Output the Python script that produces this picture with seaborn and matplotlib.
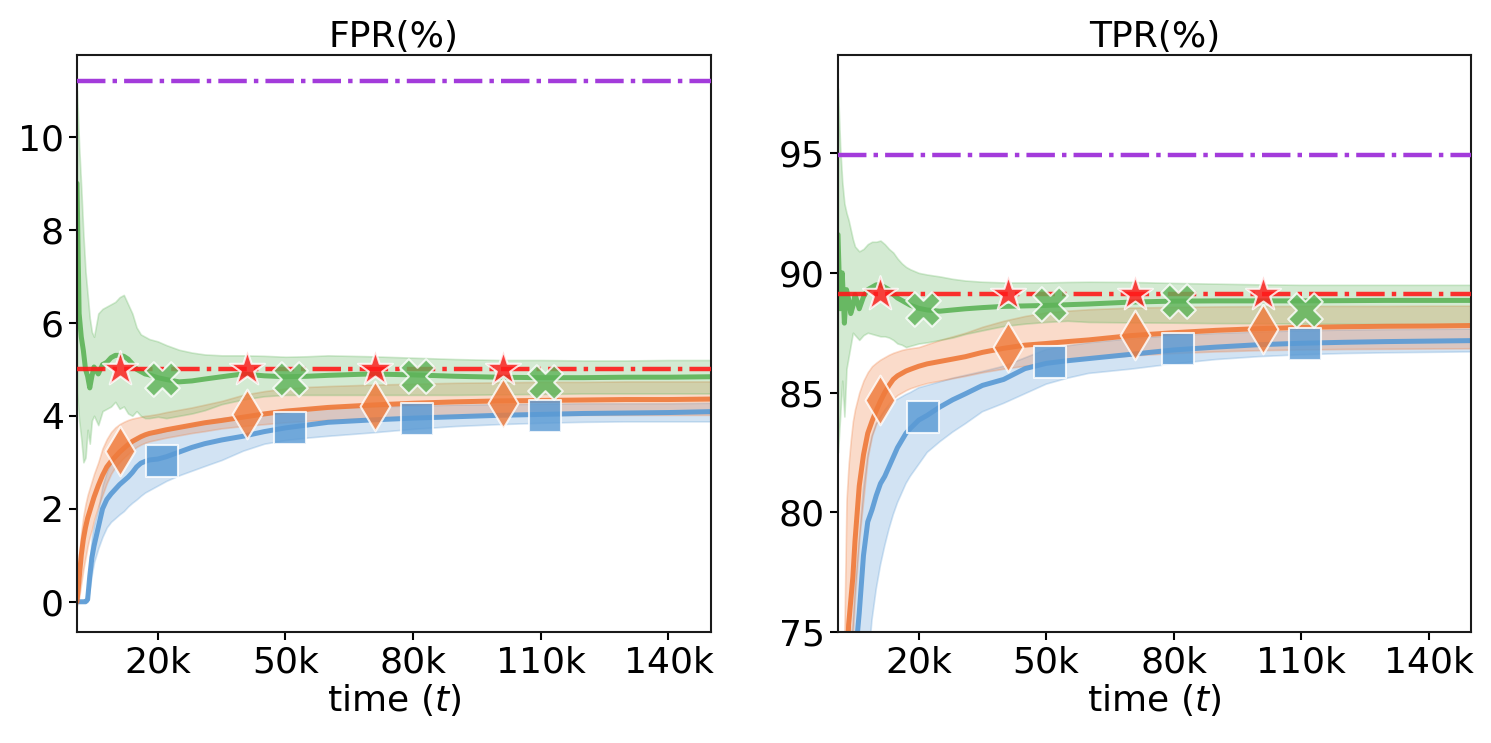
import numpy as np
import pandas as pd
import matplotlib
matplotlib.use("Agg")
import matplotlib.pyplot as plt
import seaborn as sns

# ---------------- data (time in thousands) ----------------
t_k = [1, 1.5, 2, 2.5, 3, 3.5, 4, 4.5, 5, 6, 7, 8, 9, 10, 11, 12, 13, 14, 15, 16, 17, 18,
       20, 22, 25, 28, 31, 35, 40, 45, 50, 55, 60, 70, 80, 90, 100, 110, 120, 130, 140, 150]

# FPR panel
fpr_blue = [0, 0, 0, 0, 0, 0.05, 0.55, 0.95, 1.2, 1.6, 2.0, 2.2, 2.32, 2.42, 2.52, 2.6, 2.68, 2.78, 2.9, 2.98, 3.02, 3.05,
            3.07, 3.12, 3.22, 3.32, 3.4, 3.48, 3.56, 3.66, 3.74, 3.8, 3.86, 3.91, 3.95, 3.98, 4.01, 4.03, 4.05, 4.06, 4.07, 4.09]
fpr_blue_lo = [0, 0, 0, 0, 0, 0, 0.3, 0.6, 0.85, 1.15, 1.4, 1.6, 1.72, 1.8, 1.88, 1.95, 2.05, 2.13, 2.2, 2.28, 2.35, 2.4,
               2.5, 2.6, 2.72, 2.82, 2.92, 3.05, 3.25, 3.4, 3.48, 3.53, 3.57, 3.64, 3.72, 3.78, 3.82, 3.85, 3.87, 3.88, 3.88, 3.88]
fpr_blue_hi = [0, 0, 0, 0, 0.05, 0.3, 0.9, 1.4, 1.65, 2.0, 2.5, 2.8, 3.0, 3.1, 3.18, 3.3, 3.4, 3.48, 3.54, 3.58, 3.6, 3.62,
               3.63, 3.68, 3.75, 3.82, 3.88, 3.95, 4.0, 4.08, 4.14, 4.17, 4.18, 4.2, 4.22, 4.24, 4.25, 4.26, 4.27, 4.27, 4.27, 4.28]
fpr_orange = [0, 0.5, 1.0, 1.35, 1.6, 1.8, 1.95, 2.1, 2.25, 2.5, 2.72, 2.9, 3.02, 3.12, 3.22, 3.3, 3.38, 3.45, 3.5, 3.55, 3.59, 3.62,
              3.66, 3.7, 3.75, 3.8, 3.85, 3.9, 3.97, 4.04, 4.1, 4.14, 4.18, 4.23, 4.27, 4.3, 4.32, 4.33, 4.34, 4.35, 4.35, 4.36]
fpr_orange_lo = [-0.08, 0.1, 0.4, 0.7, 0.95, 1.2, 1.4, 1.55, 1.75, 2.05, 2.3, 2.55, 2.75, 2.9, 3.0, 3.1, 3.18, 3.26, 3.33, 3.38, 3.42, 3.45,
                 3.49, 3.53, 3.58, 3.63, 3.67, 3.73, 3.78, 3.82, 3.86, 3.89, 3.91, 3.95, 3.98, 4.0, 4.01, 4.02, 4.02, 4.02, 4.02, 4.02]
fpr_orange_hi = [0.2, 1.0, 1.5, 1.85, 2.1, 2.3, 2.45, 2.6, 2.75, 3.0, 3.3, 3.5, 3.65, 3.75, 3.82, 3.87, 3.91, 3.94, 3.96, 3.98, 4.0, 4.01,
                 4.04, 4.08, 4.13, 4.18, 4.24, 4.32, 4.45, 4.53, 4.59, 4.62, 4.64, 4.67, 4.69, 4.71, 4.72, 4.73, 4.73, 4.74, 4.74, 4.74]
fpr_green = [9.0, 6.2, 5.7, 5.4, 5.0, 4.85, 4.6, 4.85, 5.05, 4.9, 5.1, 5.15, 5.25, 5.3, 5.3, 5.28, 5.22, 5.12, 5.0, 4.95, 4.9, 4.88,
             4.82, 4.78, 4.73, 4.75, 4.79, 4.84, 4.9, 4.86, 4.84, 4.85, 4.87, 4.9, 4.88, 4.85, 4.83, 4.82, 4.82, 4.83, 4.83, 4.84]
fpr_green_lo = [4.5, 3.9, 3.5, 3.0, 3.1, 3.7, 3.4, 3.9, 4.0, 3.8, 4.1, 4.15, 4.2, 4.3, 4.15, 4.2, 4.05, 4.0, 4.1, 4.0, 3.95, 3.95,
                3.98, 3.95, 4.0, 4.05, 4.12, 4.25, 4.35, 4.42, 4.45, 4.45, 4.45, 4.45, 4.45, 4.45, 4.46, 4.47, 4.48, 4.48, 4.48, 4.48]
fpr_green_hi = [11.0, 9.8, 8.9, 7.9, 7.1, 6.6, 6.1, 5.8, 5.7, 6.2, 6.3, 6.35, 6.4, 6.45, 6.55, 6.6, 6.4, 6.2, 5.9, 5.75, 5.7, 5.65,
                5.6, 5.52, 5.42, 5.36, 5.32, 5.3, 5.3, 5.29, 5.27, 5.28, 5.3, 5.28, 5.25, 5.22, 5.2, 5.2, 5.19, 5.19, 5.2, 5.2]
fpr_purple_level = 11.2
fpr_red_level = 5.0

# TPR panel
tpr_blue = [60, 62, 64, 66, 67.5, 69, 70.5, 72, 73.8, 75.8, 78.2, 79.6, 80.1, 80.7, 81.2, 81.5, 81.9, 82.3, 82.7, 83.0, 83.3, 83.5,
            83.85, 84.05, 84.4, 84.7, 84.95, 85.3, 85.55, 86.0, 86.22, 86.33, 86.42, 86.6, 86.78, 86.9, 87.0, 87.06, 87.1, 87.13, 87.15, 87.17]
tpr_blue_lo = [50, 52, 54, 56, 58, 60, 62, 64, 66, 69, 71.5, 73.5, 75.5, 76.8, 77.8, 78.6, 79.3, 79.9, 80.4, 80.8, 81.2, 81.5,
               82.0, 82.5, 82.95, 83.35, 83.7, 84.2, 84.55, 84.95, 85.35, 85.6, 85.8, 85.98, 86.2, 86.38, 86.5, 86.58, 86.63, 86.66, 86.68, 86.7]
tpr_blue_hi = [68, 70, 71.5, 72.5, 73.5, 74, 74.5, 75.3, 76.8, 78.9, 81.0, 82.4, 83.2, 83.7, 84.0, 84.25, 84.45, 84.6, 84.72, 84.82, 84.92, 85.0,
               85.2, 85.3, 85.45, 85.6, 85.72, 85.88, 86.1, 86.45, 86.8, 86.95, 87.08, 87.25, 87.38, 87.47, 87.53, 87.58, 87.61, 87.63, 87.64, 87.65]
tpr_orange = [65, 67, 69, 71, 73, 75.3, 76.3, 77.3, 78.8, 81.1, 82.4, 83.3, 83.8, 84.25, 84.65, 85.0, 85.3, 85.55, 85.7, 85.8, 85.9, 85.97,
              86.1, 86.2, 86.3, 86.4, 86.5, 86.68, 86.85, 86.98, 87.05, 87.13, 87.2, 87.38, 87.5, 87.6, 87.67, 87.72, 87.75, 87.77, 87.78, 87.8]
tpr_orange_lo = [58, 61, 64, 66.5, 69, 71.5, 73.5, 75, 76.5, 78.9, 80.6, 82.3, 83.2, 83.7, 84.0, 84.3, 84.55, 84.75, 84.9, 85.0, 85.1, 85.18,
                 85.3, 85.4, 85.5, 85.6, 85.7, 85.85, 86.0, 86.12, 86.25, 86.35, 86.42, 86.55, 86.65, 86.72, 86.77, 86.8, 86.82, 86.83, 86.84, 86.85]
tpr_orange_hi = [72, 73.5, 74.5, 75, 80.5, 82, 83, 83.8, 84.3, 85.0, 85.5, 85.85, 86.1, 86.25, 86.38, 86.48, 86.58, 86.66, 86.72, 86.78, 86.82, 86.85,
                 86.9, 87.02, 87.2, 87.35, 87.5, 87.75, 88.0, 88.2, 88.35, 88.42, 88.48, 88.55, 88.58, 88.6, 88.61, 88.62, 88.62, 88.62, 88.63, 88.63]
tpr_green = [91.6, 88.5, 90.0, 87.9, 89.3, 88.9, 88.3, 88.6, 89.1, 88.5, 89.0, 89.3, 89.4, 89.5, 89.5, 89.4, 89.3, 89.1, 88.95, 88.85, 88.75, 88.65,
             88.52, 88.45, 88.4, 88.45, 88.5, 88.55, 88.6, 88.62, 88.64, 88.67, 88.7, 88.78, 88.82, 88.83, 88.83, 88.83, 88.84, 88.85, 88.85, 88.85]
tpr_green_lo = [82.5, 84.0, 85.5, 84.0, 86.0, 86.5, 87.0, 87.5, 87.4, 87.2, 87.4, 87.5, 87.45, 87.4, 87.35, 87.35, 87.3, 87.2, 87.05, 87.0, 86.9, 86.95,
                87.05, 87.1, 87.2, 87.3, 87.45, 87.6, 87.78, 87.88, 87.95, 88.0, 87.95, 87.93, 87.92, 87.9, 87.9, 87.88, 87.87, 87.86, 87.85, 87.85]
tpr_green_hi = [97.7, 95.3, 93.8, 92.9, 92.5, 92.2, 91.8, 91.4, 91.1, 90.9, 91.0, 91.2, 91.3, 91.3, 91.35, 91.2, 91.0, 90.85, 90.6, 90.4, 90.25, 90.15,
                90.0, 89.93, 89.85, 89.75, 89.68, 89.63, 89.6, 89.6, 89.6, 89.62, 89.63, 89.62, 89.58, 89.55, 89.52, 89.5, 89.5, 89.5, 89.5, 89.5]
tpr_purple_level = 94.92
tpr_red_level = 89.1

# marker positions (thousands) and values
mk_t_a = [11, 41, 71, 101]   # star / diamond
mk_t_b = [21, 51, 81, 111]   # cross / square
fpr_star = [5.0, 5.0, 5.0, 5.0]
fpr_cross = [4.8, 4.8, 4.85, 4.73]
fpr_diamond = [3.25, 4.03, 4.21, 4.28]
fpr_square = [3.02, 3.74, 3.94, 4.0]
tpr_star = [89.1, 89.1, 89.1, 89.1]
tpr_cross = [88.5, 88.7, 88.82, 88.45]
tpr_diamond = [84.7, 86.9, 87.4, 87.64]
tpr_square = [84.0, 86.27, 86.84, 87.03]

xtick_vals = [20, 50, 80, 110, 140]
xtick_labels = ["20k", "50k", "80k", "110k", "140k"]
fpr_yticks = [0, 2, 4, 6, 8, 10]
tpr_yticks = [75, 80, 85, 90, 95]

# ---------------- style ----------------
C_BLUE = "#5b9bd5"
C_ORANGE = "#ef7b3c"
C_GREEN = "#5fb45a"
C_RED = "#ff1a1a"
C_PURPLE = "#a33bdb"

sns.set_theme(style="ticks", rc={
    "axes.edgecolor": "#1a1a1a",
    "axes.linewidth": 1.5,
    "xtick.major.size": 6,
    "ytick.major.size": 6,
    "xtick.major.width": 1.5,
    "ytick.major.width": 1.5,
    "xtick.color": "black",
    "ytick.color": "black",
    "text.color": "black",
    "axes.labelcolor": "black",
})
plt.rcParams["font.family"] = ["DejaVu Sans"]
plt.rcParams["font.size"] = 26

fig = plt.figure(figsize=(14.91, 7.43), dpi=100)
ax1 = fig.add_axes([77 / 1491, 1 - 632 / 743, 634 / 1491, 577 / 743])
ax2 = fig.add_axes([838 / 1491, 1 - 632 / 743, 633 / 1491, 577 / 743])

t = np.array(t_k) * 1000
ta = np.array(mk_t_a) * 1000
tb = np.array(mk_t_b) * 1000


def panel(ax, series, purple, red, marks, ylim, yticks, title):
    # bands
    for mean, lo, hi, col in series:
        ax.fill_between(t, lo, hi, color=col, alpha=0.27, lw=1.2, zorder=1)
    # mean lines
    for mean, lo, hi, col in series:
        sns.lineplot(x=t, y=mean, ax=ax, color=col, lw=3.6, alpha=0.92, zorder=2,
                     estimator=None, sort=False)
    # reference lines
    ax.axhline(purple, color=C_PURPLE, lw=3.2, ls="-.", zorder=3)
    ax.axhline(red, color=C_RED, lw=3.2, ls="-.", alpha=0.9, zorder=3)
    # markers
    star, cross, diamond, square = marks
    kw = dict(ax=ax, edgecolor="white", linewidth=1.5, alpha=0.82, zorder=5, legend=False)
    sns.scatterplot(x=tb, y=square, marker="s", s=560, color=C_BLUE, **kw)
    sns.scatterplot(x=ta, y=diamond, marker="d", s=640, color=C_ORANGE, **kw)
    sns.scatterplot(x=tb, y=cross, marker="X", s=620, color=C_GREEN, **kw)
    sns.scatterplot(x=ta, y=star, marker="*", s=700, color=C_RED, **kw)

    ax.set_xlim(1000, 150000)
    ax.set_ylim(*ylim)
    ax.set_xticks(np.array(xtick_vals) * 1000)
    ax.set_xticklabels(xtick_labels)
    ax.set_yticks(yticks)
    ax.tick_params(labelsize=26, colors="black")
    ax.set_title(title, fontsize=26, color="black")
    ax.set_xlabel("time ($t$)", fontsize=26, labelpad=2, color="black")
    ax.set_ylabel("")


panel(ax1,
      [(fpr_blue, fpr_blue_lo, fpr_blue_hi, C_BLUE),
       (fpr_orange, fpr_orange_lo, fpr_orange_hi, C_ORANGE),
       (fpr_green, fpr_green_lo, fpr_green_hi, C_GREEN)],
      fpr_purple_level, fpr_red_level,
      (fpr_star, fpr_cross, fpr_diamond, fpr_square),
      (-0.65, 11.76), fpr_yticks, "FPR(%)")

panel(ax2,
      [(tpr_blue, tpr_blue_lo, tpr_blue_hi, C_BLUE),
       (tpr_orange, tpr_orange_lo, tpr_orange_hi, C_ORANGE),
       (tpr_green, tpr_green_lo, tpr_green_hi, C_GREEN)],
      tpr_purple_level, tpr_red_level,
      (tpr_star, tpr_cross, tpr_diamond, tpr_square),
      (75, 99.1), tpr_yticks, "TPR(%)")

fig.savefig("out.png", dpi=100)
